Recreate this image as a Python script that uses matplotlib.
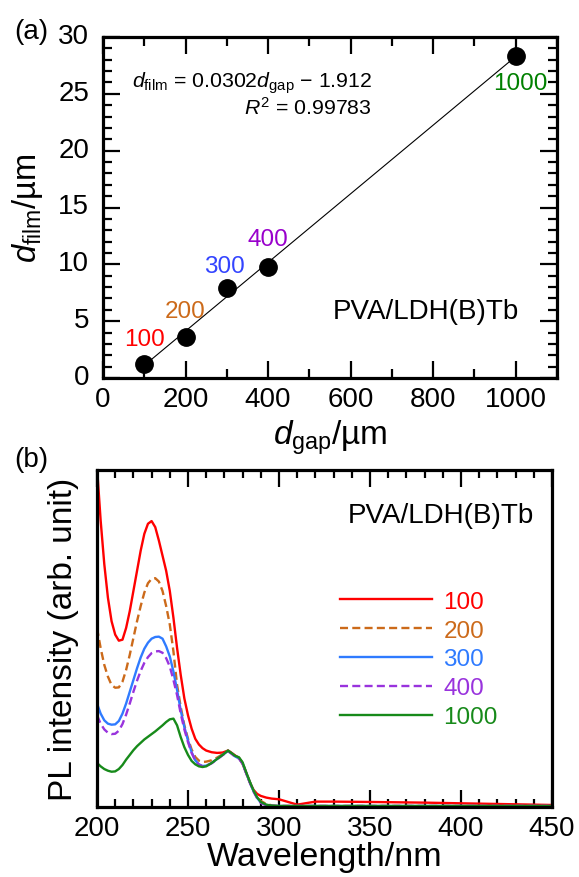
import matplotlib
matplotlib.use("Agg")
from matplotlib import pyplot as plt
from matplotlib.ticker import MultipleLocator
from matplotlib.transforms import ScaledTranslation
import numpy as np

plt.rcParams['font.family'] = ['Liberation Sans', 'DejaVu Sans']
plt.rcParams['mathtext.fontset'] = 'custom'
plt.rcParams['mathtext.rm'] = 'Liberation Sans'
plt.rcParams['mathtext.it'] = 'Liberation Sans:italic'

# ---- panel (a) data ----
d_gap = [100, 200, 300, 400, 1000]
d_film = [1.2, 3.6, 7.9, 9.8, 28.3]
gap_labels = ['100', '200', '300', '400', '1000']
fit_slope = 0.0302
fit_icpt = -1.912
fit_r2 = 0.99783

# ---- panel (b) data ----
wl = [200, 202, 204, 206, 208, 210, 212, 214, 216, 218, 220, 222, 224, 226, 228,
      230, 232, 234, 236, 238, 240, 242, 244, 246, 248, 250, 252, 254, 256, 258,
      260, 263, 266, 269, 272, 274, 276, 278, 280, 282, 284, 286, 288, 290, 293,
      296, 300, 305, 310, 320, 330, 350, 380, 400, 420, 450]
pl_100 = [101, 85, 72, 62, 55, 51, 49.2, 49.5, 53, 58, 64, 70, 76, 81, 84,
          84.8, 83, 79, 74.5, 70, 64, 56, 47, 39, 32, 27, 23, 20, 18.3, 17.2,
          16.5, 16.0, 15.8, 15.9, 16.5, 15.8, 15.0, 14.3, 12.5, 9.8, 7.0, 4.8, 3.6, 3.0, 2.5,
          2.2, 2.0, 1.2, 0.4, 1.3, 1.3, 1.2, 1.0, 0.8, 0.6, 0.3]
pl_200 = [53, 47, 42, 38.5, 36, 35.2, 35.3, 37, 40.5, 45, 50, 55, 59.5, 63.5, 66.3,
          67.6, 67.8, 66.8, 64, 59.5, 54, 46, 36, 29.5, 24, 20, 16.8, 14.6, 13.5, 13.1,
          13.2, 13.6, 14.4, 15.4, 16.5, 15.7, 14.8, 14.3, 12.8, 9.9, 7.1, 4.6, 2.8, 1.5, 0.6,
          0.2, 0, 0, 0, 0, 0, 0, 0, 0, 0, 0]
pl_300 = [30.5, 27.5, 25.5, 24.5, 24.2, 24.3, 25.3, 27.5, 30.5, 34, 37.5, 41, 44.2, 46.8, 48.6,
          49.8, 50.3, 50.4, 49.8, 47.5, 44.5, 40, 34.5, 28.5, 23.5, 19.5, 16, 13.6, 12.4, 11.9,
          12, 12.8, 14, 15.2, 16.4, 15.6, 14.7, 14.2, 12.7, 9.8, 7, 4.4, 2.4, 1.0, 0.3,
          0.05, 0, 0, 0, 0, 0, 0, 0, 0, 0, 0]
pl_400 = [27, 24.5, 22.8, 21.8, 21.4, 21.5, 22.4, 24.4, 27.2, 30.5, 34, 37.3, 40.2, 42.6, 44.3,
          45.5, 46, 46.1, 45.6, 44, 41.5, 37.5, 33, 27.5, 22.8, 19, 15.8, 13.5, 12.3, 11.8,
          11.9, 12.7, 13.9, 15.1, 16.3, 15.5, 14.6, 14.1, 12.6, 9.7, 6.9, 4.3, 2.3, 0.9, 0.2,
          0, 0, 0, 0, 0, 0, 0, 0, 0, 0, 0]
pl_1000 = [12.8, 11.8, 11, 10.5, 10.2, 10.3, 11, 12.2, 13.8, 15.2, 16.6, 17.8, 18.8, 19.8, 20.6,
           21.4, 22.2, 23.1, 24.0, 25, 25.8, 26, 24, 20.5, 17.5, 15.2, 13.4, 12.4, 11.8, 11.6,
           11.8, 12.8, 14, 15.2, 16.5, 15.7, 14.9, 14.5, 13, 10, 7.2, 4.6, 2.6, 1.2, 0.4,
           0.1, 0, 0, 0, 0, 0, 0, 0, 0, 0, 0]

colors = ['#ff0000', '#cc6a1a', '#2f7bff', '#9933dd', '#178a1a']
text_colors = ['#ff0000', '#cc6a1a', '#3344ff', '#9900cc', '#008000']
styles = ['-', '--', '-', '--', '-']
series = [pl_100, pl_200, pl_300, pl_400, pl_1000]

W, H = 579, 878
fig = plt.figure(figsize=(W / 100, H / 100), dpi=100)
ax1 = fig.add_axes([103 / W, 1 - 379 / H, (557 - 103) / W, (379 - 38) / H])
ax2 = fig.add_axes([97 / W, 1 - 808 / H, (552 - 97) / W, (808 - 471) / H])

for ax in (ax1, ax2):
    for sp in ax.spines.values():
        sp.set_linewidth(2.3)

# ---- (a) ----
xfit = np.array([d_gap[0], d_gap[-1]])
ax1.plot(xfit, fit_slope * xfit + fit_icpt, color='black', lw=0.8, zorder=2)
ax1.plot(d_gap, d_film, 'o', color='black', ms=12.5, zorder=3)

offsets = [(0, 10), (0, 11), (-2, 8), (0, 12), (3, -11)]
for x, y, lab, c, off in zip(d_gap, d_film, gap_labels, text_colors, offsets):
    ax1.annotate(lab, (x, y), xytext=off, textcoords='offset points',
                 ha='center', va='bottom' if off[1] > 0 else 'top',
                 color=c, fontsize=17.5)

ax1.set_xlim(0, 1100)
ax1.set_ylim(0, 30)
ax1.xaxis.set_major_locator(MultipleLocator(200))
ax1.xaxis.set_minor_locator(MultipleLocator(100))
ax1.yaxis.set_major_locator(MultipleLocator(5))
ax1.yaxis.set_minor_locator(MultipleLocator(1))
ax1.tick_params(which='both', direction='in', top=True, right=True, width=1.6)
ax1.tick_params(which='major', length=12, labelsize=20, pad=6)
ax1.tick_params(which='minor', length=6.5)
ax1.tick_params(axis='y', pad=10)
up = ScaledTranslation(0, 4 / 100, fig.dpi_scale_trans)
for lab in ax1.get_yticklabels():
    lab.set_transform(lab.get_transform() + up)

ax1.set_xlabel(r'$d_{\mathrm{gap}}$/µm', fontsize=24)
ax1.set_ylabel(r'$d_{\mathrm{film}}$/µm', fontsize=23.5)
ax1.xaxis.set_label_coords(0.5, -0.115)
ax1.yaxis.set_label_coords(-0.128, 0.5)

ax1.text(0.592, 0.853, r'$d_{\mathrm{film}}$ = 0.0302$d_{\mathrm{gap}}$ − 1.912',
         transform=ax1.transAxes, ha='right', va='baseline', fontsize=15.3)
ax1.text(0.592, 0.776, r'$R^{2}$ = %.5f' % fit_r2,
         transform=ax1.transAxes, ha='right', va='baseline', fontsize=15.3)
ax1.text(0.917, 0.176, 'PVA/LDH(B)Tb', transform=ax1.transAxes,
         ha='right', va='baseline', fontsize=20)

# ---- (b) ----
for ys, c, ls, lab in zip(series, colors, styles, gap_labels):
    line, = ax2.plot(wl, ys, color=c, lw=1.7, ls=ls, label=lab)
    if ls == '--':
        line.set_dashes((3.4, 1.8))

ax2.set_xlim(200, 450)
ax2.set_ylim(-0.3, 100)
ax2.xaxis.set_major_locator(MultipleLocator(50))
ax2.xaxis.set_minor_locator(MultipleLocator(10))
ax2.set_yticks([])
ax2.tick_params(axis='x', which='both', direction='in', top=True, width=1.6)
ax2.tick_params(axis='x', which='major', length=12, labelsize=20, pad=6)
ax2.tick_params(axis='x', which='minor', length=6)
ax2.set_xlabel('Wavelength/nm', fontsize=24.5)
ax2.set_ylabel('PL intensity (arb. unit)', fontsize=24)
ax2.xaxis.set_label_coords(0.5, -0.1)
ax2.yaxis.set_label_coords(-0.04, 0.5)

ax2.text(0.96, 0.847, 'PVA/LDH(B)Tb', transform=ax2.transAxes,
         ha='right', va='baseline', fontsize=20)
ax2.legend(loc='center left', bbox_to_anchor=(0.534, 0.438), frameon=False,
           fontsize=17.5, labelcolor='linecolor', handlelength=3.8,
           handletextpad=0.45, labelspacing=0.28, borderpad=0, borderaxespad=0)

fig.text(31 / W, 1 - 32 / H, '(a)', fontsize=20, ha='center', va='center')
fig.text(31 / W, 1 - 460 / H, '(b)', fontsize=20, ha='center', va='center')

fig.savefig('out.png', dpi=100)
